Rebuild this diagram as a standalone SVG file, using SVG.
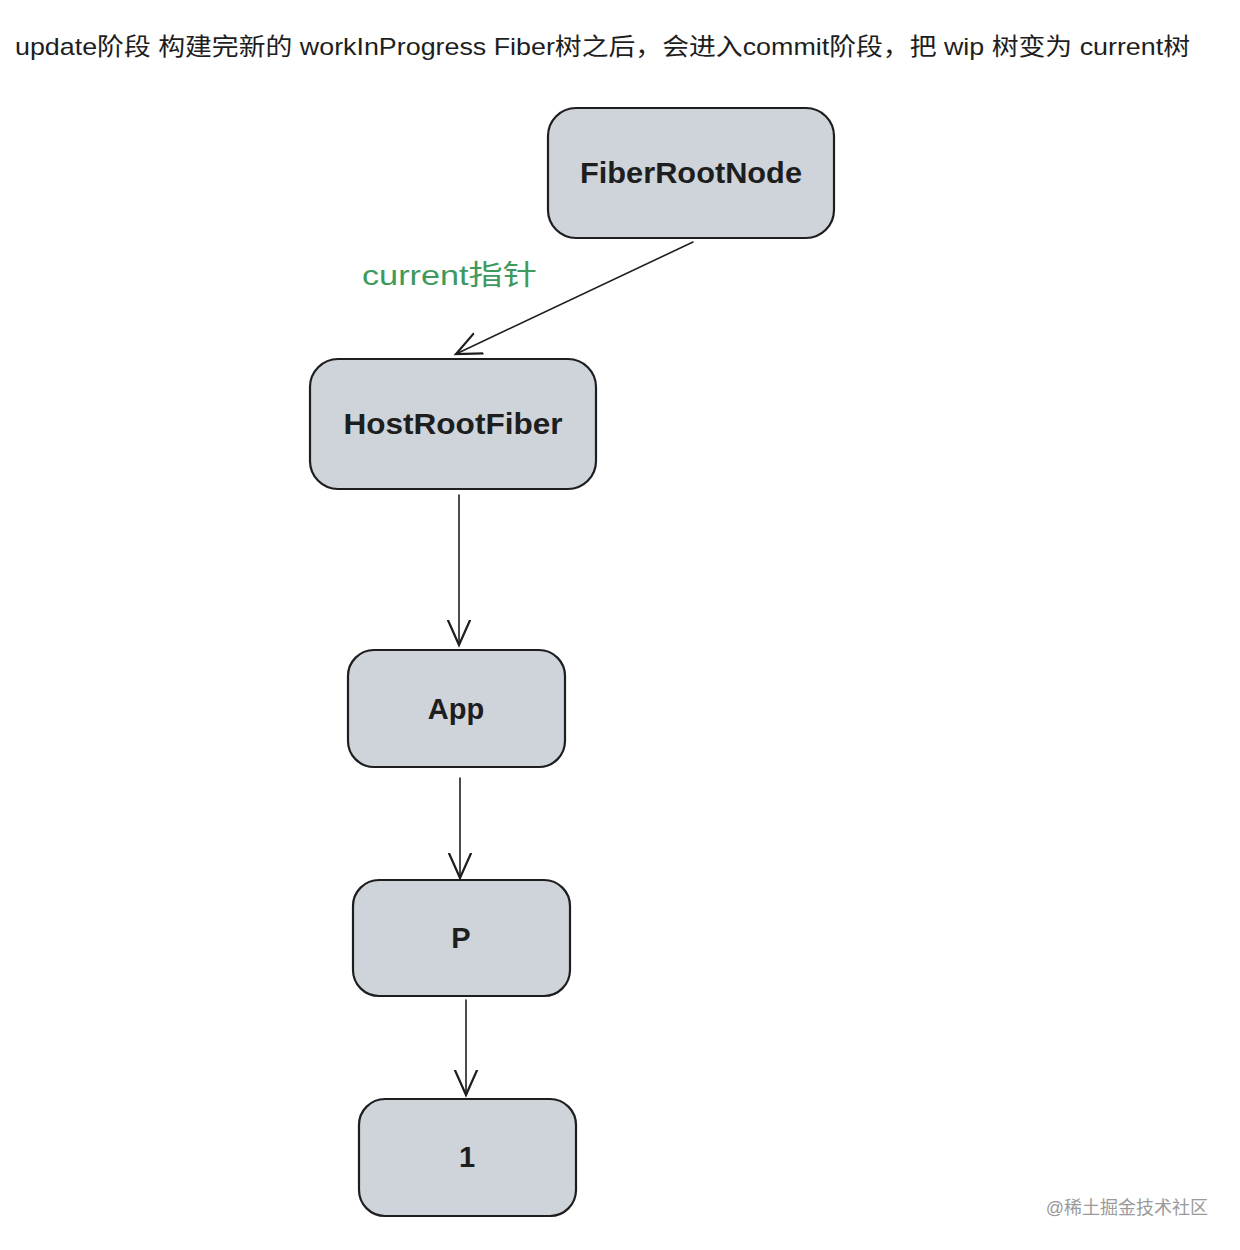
<svg xmlns="http://www.w3.org/2000/svg" width="1240" height="1250" viewBox="0 0 1240 1250">
<style>
.box{fill:#ced4da;stroke:#1e1e1e;stroke-width:2.2}
.lbl{font-family:"Liberation Sans","Noto Sans CJK SC",sans-serif;font-size:29px;font-weight:bold;fill:#1e1e1e;text-anchor:middle;dominant-baseline:central}
.edge{stroke:#1e1e1e;stroke-width:1.6;fill:none;stroke-linecap:round}
</style>
<defs>
<marker id="ah" viewBox="0 0 20 20" refX="18" refY="10" markerWidth="28" markerHeight="28" markerUnits="userSpaceOnUse" orient="auto">
<path d="M0,2 L18,10 L0,18" fill="none" stroke="#1e1e1e" stroke-width="1.6"/>
</marker>
</defs>
<rect width="1240" height="1250" fill="#ffffff"/>
<text x="15" y="46" font-family="Liberation Sans,Noto Sans CJK SC,sans-serif" font-size="24" fill="#1e1e1e" dominant-baseline="central" textLength="1175" lengthAdjust="spacingAndGlyphs">update阶段 构建完新的 workInProgress Fiber树之后，会进入commit阶段，把 wip 树变为 current树</text>
<g id="connectors">
<path class="edge" d="M693,242 L456,354" marker-end="url(#ah)"/>
<path class="edge" d="M459,495 L459,645" marker-end="url(#ah)"/>
<path class="edge" d="M460,778 L460,878" marker-end="url(#ah)"/>
<path class="edge" d="M466,1000 L466,1095" marker-end="url(#ah)"/>
</g>
<text x="362" y="275" font-family="Liberation Sans,Noto Sans CJK SC,sans-serif" font-size="28" fill="#3d9a5c" dominant-baseline="central" textLength="175" lengthAdjust="spacingAndGlyphs">current指针</text>
<g id="node-fiberrootnode">
<rect class="box" x="548" y="108" width="286" height="130" rx="28"/>
<text class="lbl" x="691" y="173" textLength="222" lengthAdjust="spacingAndGlyphs">FiberRootNode</text>
</g>
<g id="node-hostrootfiber">
<rect class="box" x="310" y="359" width="286" height="130" rx="28"/>
<text class="lbl" x="453" y="424" textLength="219" lengthAdjust="spacingAndGlyphs">HostRootFiber</text>
</g>
<g id="node-app">
<rect class="box" x="348" y="650" width="217" height="117" rx="26"/>
<text class="lbl" x="456" y="709">App</text>
</g>
<g id="node-p">
<rect class="box" x="353" y="880" width="217" height="116" rx="26"/>
<text class="lbl" x="461" y="938">P</text>
</g>
<g id="node-1">
<rect class="box" x="359" y="1099" width="217" height="117" rx="26"/>
<text class="lbl" x="467" y="1157">1</text>
</g>
<text x="1208" y="1208" font-family="Liberation Sans,Noto Sans CJK SC,sans-serif" font-size="18" fill="#9a9a9a" text-anchor="end" dominant-baseline="central">@稀土掘金技术社区</text>
</svg>
